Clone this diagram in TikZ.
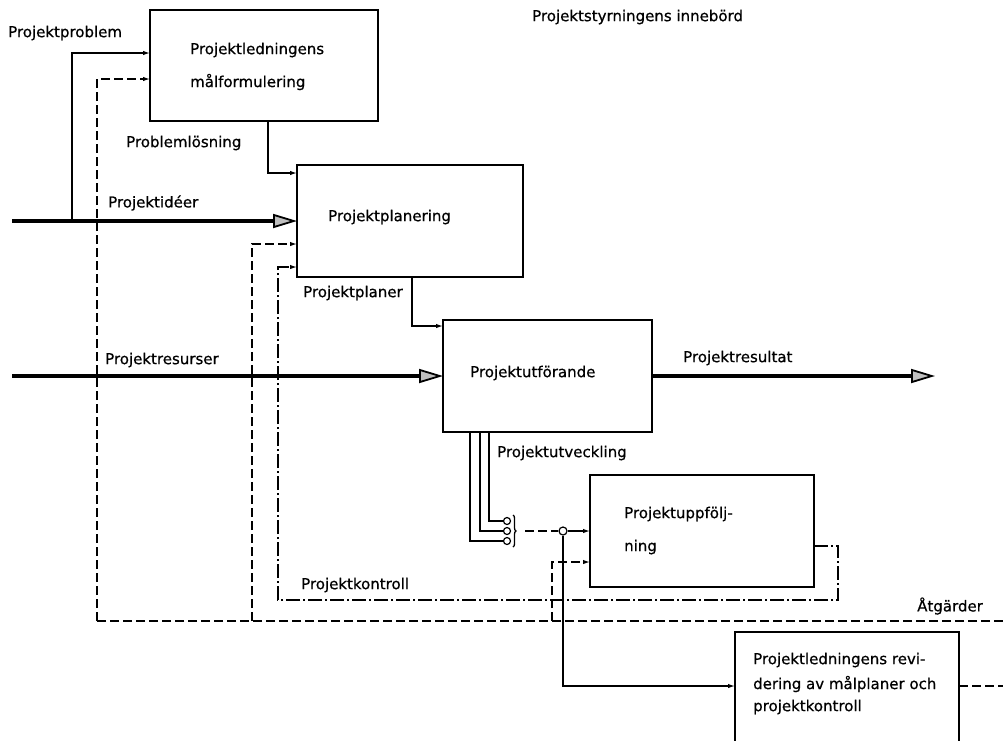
\documentclass[tikz,border=0pt]{standalone}
\usepackage{fontspec}
\setmainfont[FakeBold=0.6]{DejaVu Sans}
\usetikzlibrary{arrows.meta,calc,decorations.pathreplacing}
\begin{document}
\begin{tikzpicture}[x=1pt,y=-1pt,
  box/.style={draw, line width=1.8pt, inner sep=0pt, outer sep=0pt, anchor=north west},
  lbl/.style={anchor=west, inner sep=0pt, font=\fontsize{15}{17}\selectfont},
  thinln/.style={line width=1.3pt},
  tarr/.style={thinln, -{Latex[length=7pt,width=4.5pt]}},
  fat/.style={line width=3.5pt, -{Triangle[length=24pt,width=14pt,fill=gray!50,line width=1.8pt]}},
  dsh/.style={thinln, dash pattern=on 9pt off 4pt},
  dsd/.style={thinln, dash pattern=on 14pt off 3pt on 2pt off 3pt},
  dot/.style={circle, draw, line width=1.2pt, fill=white, inner sep=0pt, minimum size=7pt}
]
\useasboundingbox (0,0) rectangle (1003,740);
\fill[white] (0,0) rectangle (1003,740);

% boxes
\node[box, minimum width=228pt, minimum height=111pt] (b1) at (150,10) {};
\node[box, minimum width=226pt, minimum height=112pt] (b2) at (297,165) {};
\node[box, minimum width=209pt, minimum height=112pt] (b3) at (443,320) {};
\node[box, minimum width=224pt, minimum height=112pt] (b4) at (590,475) {};
\node[box, minimum width=224pt, minimum height=125pt] (b5) at (735,632) {};

% box texts
\node[lbl] (t1a) at (190,50) {Projektledningens};
\node[lbl] (t1b) at (190,82) {målformulering};
\node[lbl] (t2) at (328,217) {Projektplanering};
\node[lbl] (t3) at (470,373) {Projektutförande};
\node[lbl] (t4a) at (624,514) {Projektuppfölj-};
\node[lbl] (t4b) at (624,547) {ning};
\node[lbl] (t5a) at (753,660) {Projektledningens revi-};
\node[lbl] (t5b) at (753,684) {dering av målplaner och};
\node[lbl] (t5c) at (753,707) {projektkontroll};

% labels
\node[lbl] (title) at (532,17) {Projektstyrningens innebörd};
\node[lbl] (lpp) at (8,33) {Projektproblem};
\node[lbl] (lpl) at (126,143) {Problemlösning};
\node[lbl] (lpi) at (108,203) {Projektidéer};
\node[lbl] (lpn) at (303,293) {Projektplaner};
\node[lbl] (lpr) at (105,360) {Projektresurser};
\node[lbl] (lres) at (683,358) {Projektresultat};
\node[lbl] (lutv) at (497,453) {Projektutveckling};
\node[lbl] (lkon) at (301,585) {Projektkontroll};
\node[lbl] (latg) at (917,606) {Åtgärder};

% coordinates
\coordinate (s1) at (12,221);
\coordinate (j1) at (72,221);
\coordinate (s2) at (12,376);
\coordinate (e3) at (935,376);
\coordinate (dR) at (1003,621);
\coordinate (dL) at (97,621);
\coordinate (d2) at (252,621);
\coordinate (d4) at (552,621);
\coordinate (k1) at (838,600);
\coordinate (k2) at (278,600);
\coordinate (r5) at (1003,686);

% thick flows
\draw[fat] (s1) -- (b2.west);
\draw[fat] (s2) -- (b3.west);
\draw[fat] (b3.east) -- (e3);

% Projektproblem
\draw[tarr] (j1) |- ($(b1.north west)+(0,43)$);
% Problemlosning
\draw[tarr] ($(b1.south west)+(118,0)$) |- ($(b2.north west)+(0,8)$);
% Projektplaner
\draw[tarr] ($(b2.south west)+(115,0)$) |- ($(b3.north west)+(0,6)$);

% Atgarder dashed
\draw[dsh] (dR) -- (dL);
\draw[dsh, -{Latex[length=7pt,width=4.5pt]}] (dL) |- ($(b1.north west)+(0,69)$);
\draw[dsh, -{Latex[length=7pt,width=4.5pt]}] (d2) |- ($(b2.north west)+(0,79)$);
\draw[dsh, -{Latex[length=7pt,width=4.5pt]}] (d4) |- ($(b4.north west)+(0,87)$);

% Projektkontroll dash-dot
\draw[dsd, -{Latex[length=7pt,width=4.5pt]}] ($(b4.north east)+(0,71)$) -| (k1) -- (k2) |- ($(b2.north west)+(0,102)$);

% Projektutveckling
\node[dot] (c1) at (507,521) {};
\node[dot] (c2) at (507,531) {};
\node[dot] (c3) at (507,541) {};
\draw[thinln] ($(b3.south west)+(27,0)$) |- (c3.west);
\draw[thinln] ($(b3.south west)+(37,0)$) |- (c2.west);
\draw[thinln] ($(b3.south west)+(46,0)$) |- (c1.west);
\coordinate (brA) at (513,515);
\coordinate (brB) at (513,547);
\draw[thinln, decorate, decoration={brace, amplitude=3pt}] (brA) -- (brB);
\node[dot, minimum size=8pt] (jn) at (563,531) {};
\coordinate (bo) at (525,531);
\draw[dsh] (bo) -- (jn.west);
\draw[tarr] (jn.east) -- (b4.west);
\draw[tarr] (jn.south) |- ($(b5.north west)+(0,54)$);

% from revision box
\draw[dsh] ($(b5.north east)+(0,54)$) -- (r5);
\end{tikzpicture}
\end{document}
